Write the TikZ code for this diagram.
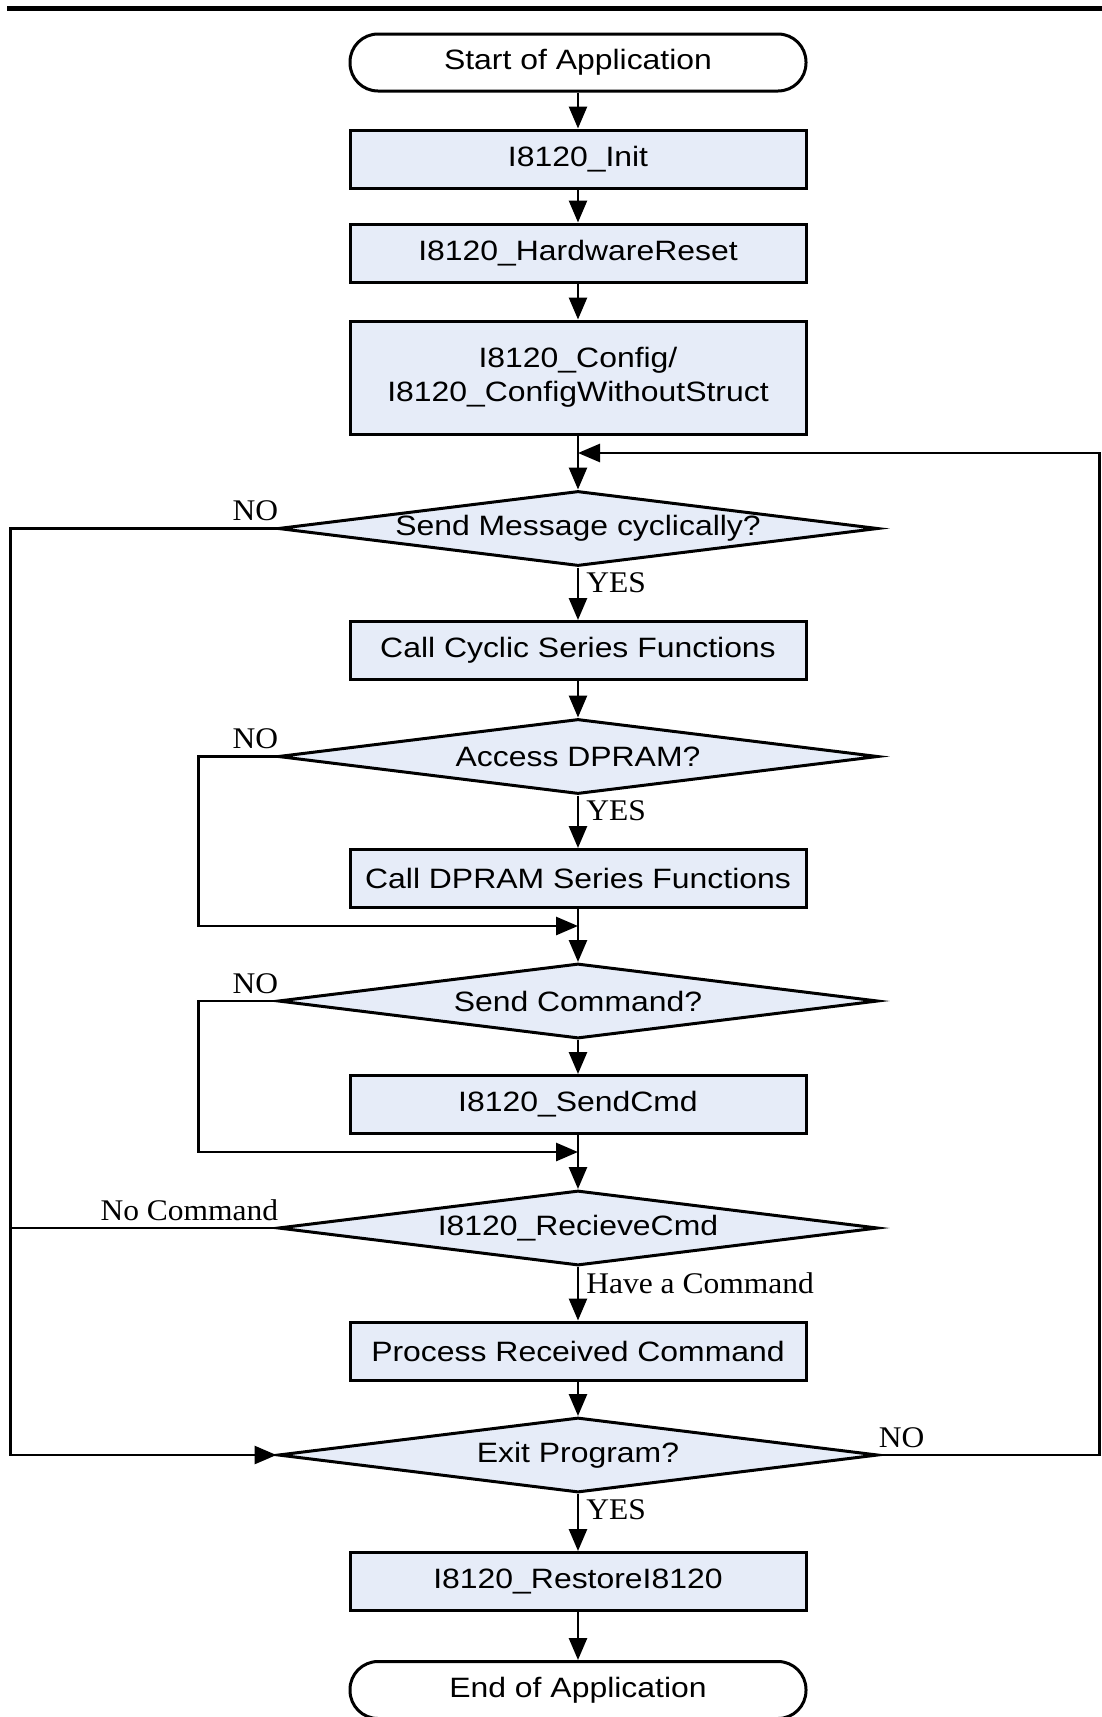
\documentclass[tikz,border=0pt]{standalone}
\usepackage{fontspec}
\setmainfont{Liberation Sans}[FakeStretch=1.14]
\newfontfamily\lblfont{Liberation Serif}[FakeStretch=1.05]
\usetikzlibrary{shapes.geometric,arrows.meta}
\definecolor{boxfill}{RGB}{230,236,248}
\begin{document}
\begin{tikzpicture}[x=1pt,y=-1pt,line width=2.7pt,
  font=\fontsize{28}{34}\selectfont,
  >={Triangle[length=22pt,width=18pt]},
  proc/.style={draw,fill=boxfill,line width=3pt,minimum width=456pt,minimum height=58pt,inner sep=0pt,align=center},
  term/.style={draw,line width=3pt,rounded corners=28pt,minimum width=456pt,minimum height=57pt,inner sep=0pt},
  decide/.style={draw,fill=boxfill,line width=3pt,shape=diamond,aspect=8,minimum width=600pt,minimum height=75pt,inner sep=0pt},
  lbl/.style={font=\lblfont\fontsize{30}{32}\selectfont,inner sep=0pt}]
\useasboundingbox (0,0) rectangle (1102,1717);
\draw[line width=5pt] (7,8.5) -- (1102,8.5);
\node[term] (start) at (578,62.5) {Start of Application};
\node[proc] (init) at (578,159) {I8120\_Init};
\node[proc] (hwreset) at (578,253) {I8120\_HardwareReset};
\node[proc,minimum height=113pt] (config) at (578,377.5) {I8120\_Config/\\I8120\_ConfigWithoutStruct};
\node[decide] (cycq) at (578,528.5) {Send Message cyclically?};
\node[proc] (cyclic) at (578,650.5) {Call Cyclic Series Functions};
\node[decide] (dpramq) at (578,756.5) {Access DPRAM?};
\node[proc] (dpram) at (578,878.5) {Call DPRAM Series Functions};
\node[decide] (cmdq) at (578,1001) {Send Command?};
\node[proc] (sendcmd) at (578,1104.5) {I8120\_SendCmd};
\node[decide] (recvq) at (578,1228) {I8120\_RecieveCmd};
\node[proc] (process) at (578,1351) {Process Received Command};
\node[decide] (exitq) at (578,1455) {Exit Program?};
\node[proc] (restore) at (578,1581.5) {I8120\_RestoreI8120};
\node[term] (finish) at (578,1690) {End of Application};
\coordinate (fbin) at (578,453);
\coordinate (rt) at (1099.5,453);
\coordinate (lt) at (10.5,528.5);
\coordinate (m1) at (578,926);
\coordinate (m2) at (578,1152);
\draw[->] (start) -- (init);
\draw[->] (init) -- (hwreset);
\draw[->] (hwreset) -- (config);
\draw[->] (config) -- (cycq);
\draw[->] (cycq) -- (cyclic);
\draw[->] (cyclic) -- (dpramq);
\draw[->] (dpramq) -- (dpram);
\draw[->] (dpram) -- (cmdq);
\draw[->] (cmdq) -- (sendcmd);
\draw[->] (sendcmd) -- (recvq);
\draw[->] (recvq) -- (process);
\draw[->] (process) -- (exitq);
\draw[->] (exitq) -- (restore);
\draw[->] (restore) -- (finish);
\draw[->] (dpramq.west) -- ++(-78,0) |- (m1);
\draw[->] (cmdq.west) -- ++(-78,0) |- (m2);
\draw[->] (cycq.west) -- (lt) |- (exitq.west);
\draw (recvq.west) -- (recvq.west -| lt);
\draw[->] (exitq.east) -| (rt) -- (fbin);
\node[lbl,anchor=south east,xshift=3pt,yshift=6pt] at (cycq.west) {NO};
\node[lbl,anchor=south east,xshift=3pt,yshift=6pt] at (dpramq.west) {NO};
\node[lbl,anchor=south east,xshift=3pt,yshift=6pt] at (cmdq.west) {NO};
\node[lbl,anchor=south east,xshift=3pt,yshift=6pt] at (recvq.west) {No Command};
\node[lbl,anchor=south west,xshift=-2pt,yshift=6pt] at (exitq.east) {NO};
\node[lbl,anchor=north west,xshift=7pt,yshift=-4pt] at (cycq.south) {YES};
\node[lbl,anchor=north west,xshift=7pt,yshift=-4pt] at (dpramq.south) {YES};
\node[lbl,anchor=north west,xshift=7pt,yshift=-4pt] at (recvq.south) {Have a Command};
\node[lbl,anchor=north west,xshift=7pt,yshift=-4pt] at (exitq.south) {YES};
\end{tikzpicture}
\end{document}
